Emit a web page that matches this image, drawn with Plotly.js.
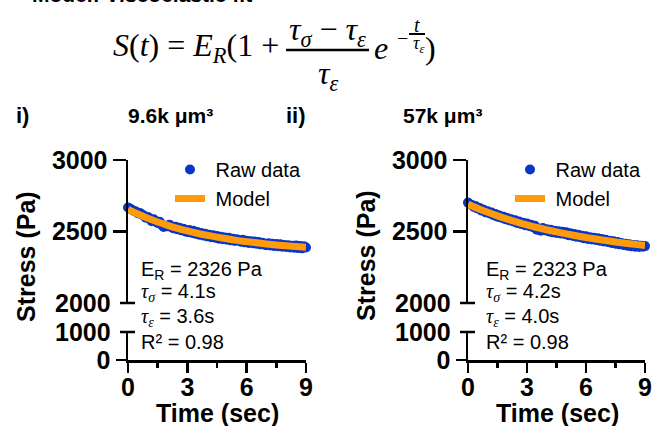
<!DOCTYPE html>
<html>
<head>
<meta charset="utf-8">
<script src="https://cdn.plot.ly/plotly-3.0.1.min.js"></script>
<style>html,body{margin:0;padding:0;background:#fff;}#chart{width:653px;height:426px;}</style>
</head>
<body>
<div id="chart"></div>
<script>
// ---------- data ----------
const rawTime = [0,0.1,0.2,0.3,0.4,0.5,0.6,0.7,0.8,0.9,1,1.1,1.2,1.3,1.4,1.5,1.6,1.7,1.8,1.9,2,2.1,2.2,2.3,2.4,2.5,2.6,2.7,2.8,2.9,3,3.1,3.2,3.3,3.4,3.5,3.6,3.7,3.8,3.9,4,4.1,4.2,4.3,4.4,4.5,4.6,4.7,4.8,4.9,5,5.1,5.2,5.3,5.4,5.5,5.6,5.7,5.8,5.9,6,6.1,6.2,6.3,6.4,6.5,6.6,6.7,6.8,6.9,7,7.1,7.2,7.3,7.4,7.5,7.6,7.7,7.8,7.9,8,8.1,8.2,8.3,8.4,8.5,8.6,8.7,8.8,8.9,9];
const rawStressI = [2668,2660,2652,2644,2640,2628,2630,2618,2612,2596,2602,2590,2572,2585,2574,2560,2568,2548,2532,2540,2536,2548,2530,2522,2534,2515,2526,2508,2520,2500,2496,2510,2492,2505,2484,2496,2478,2490,2472,2484,2466,2478,2460,2474,2456,2468,2450,2464,2446,2458,2442,2456,2438,2450,2434,2446,2440,2428,2442,2424,2436,2420,2432,2418,2430,2414,2426,2410,2422,2408,2404,2418,2402,2414,2398,2412,2396,2410,2394,2406,2392,2404,2388,2400,2386,2402,2384,2398,2382,2396,2388];
const rawStressII = [2702,2690,2686,2672,2676,2660,2664,2646,2652,2634,2642,2626,2632,2614,2622,2604,2612,2596,2604,2586,2594,2578,2586,2570,2578,2560,2570,2552,2562,2544,2556,2538,2548,2530,2540,2512,2520,2506,2524,2508,2516,2500,2512,2494,2506,2490,2502,2486,2498,2482,2494,2474,2488,2470,2482,2464,2478,2460,2470,2452,2466,2448,2460,2444,2456,2440,2452,2436,2448,2430,2442,2426,2436,2420,2432,2414,2426,2410,2420,2406,2414,2400,2410,2396,2406,2394,2404,2392,2400,2394,2398];
const modelTime = [0,0.5,1,1.5,2,2.5,3,3.5,4,4.5,5,5.5,6,6.5,7,7.5,8,8.5,9];
const modelStressI = [2655,2622,2592,2566,2543,2522,2504,2488,2474,2461,2449,2438,2429,2421,2413,2406,2400,2395,2390];
const modelStressII = [2690,2661,2634,2609,2586,2565,2546,2528,2512,2497,2483,2470,2458,2447,2437,2427,2418,2410,2402];
const xTickVals = [0,3,6,9];
const upperTickVals = [2500,3000];
const upperBreakTick = 2000;
const lowerTickVals = [0];
const lowerBreakTick = 1000;
const panelTitles = ['9.6k μm³','57k μm³'];
const panelLabels = ['i)','ii)'];
const fitTextI = ['E<sub>R</sub> = 2326 Pa','4.1s','3.6s','R² = 0.98'];
const fitTextII = ['E<sub>R</sub> = 2323 Pa','4.2s','4.0s','R² = 0.98'];

// ---------- helpers ----------
const W = 653, H = 426;
const px = v => v / W;
const py = v => 1 - v / H;
const BLUE = '#0a36c8', ORANGE = '#ff9a0a', INK = '#000';
const SANS = 'Liberation Sans, Arial, sans-serif';
const SERIF = 'Liberation Serif, Times New Roman, serif';

const traces = [
  {x: rawTime, y: rawStressI, xaxis:'x', yaxis:'y2', type:'scatter', mode:'markers', name:'\u00a0Raw data',
   marker:{color:BLUE, size:10}, cliponaxis:false, legend:'legend'},
  {x: modelTime, y: modelStressI, xaxis:'x', yaxis:'y2', type:'scatter', mode:'lines', name:'\u00a0Model',
   line:{color:ORANGE, width:7, shape:'spline'}, cliponaxis:false, legend:'legend'},
  {x: rawTime, y: rawStressII, xaxis:'x2', yaxis:'y4', type:'scatter', mode:'markers', name:'\u00a0Raw data',
   marker:{color:BLUE, size:10}, cliponaxis:false, legend:'legend2'},
  {x: modelTime, y: modelStressII, xaxis:'x2', yaxis:'y4', type:'scatter', mode:'lines', name:'\u00a0Model',
   line:{color:ORANGE, width:7, shape:'spline'}, cliponaxis:false, legend:'legend2'}
];

const tickFont = {family:SANS, size:25, color:INK, weight:'bold'};
const LW = 2.5;
const lowerPx = [332, 360], upperPx = [160, 303];
const lowerDom = [py(lowerPx[1]), py(lowerPx[0])];
const upperDom = [py(upperPx[1]), py(upperPx[0])];
const panelXPx = [[128, 306], [468, 645]];

function xAxis(dom, anchor){
  return {domain:dom, anchor:anchor, range:[0,9], showline:true, linecolor:INK, linewidth:LW,
    ticks:'outside', ticklen:10, tickwidth:LW, tickcolor:INK, tickmode:'array', tickvals:xTickVals,
    tickfont:tickFont, showgrid:false, zeroline:false, fixedrange:true, ticklabelstandoff:-7,
    minor:{tickmode:'linear', tick0:0, dtick:1.5, ticks:'outside', ticklen:5, tickwidth:LW, tickcolor:INK, showgrid:false}};
}
function yAxis(dom, anchor, range, vals, len){
  return {domain:dom, anchor:anchor, range:range, showline:true, linecolor:INK, linewidth:LW,
    ticks:'outside', ticklen:len, tickwidth:LW, tickcolor:INK, tickmode:'array', tickvals:vals,
    tickfont:tickFont, showgrid:false, zeroline:false, fixedrange:true};
}

const layout = {
  width:W, height:H, margin:{l:0,r:0,t:0,b:0}, paper_bgcolor:'#fff', plot_bgcolor:'rgba(0,0,0,0)',
  font:{family:SANS, color:INK},
  xaxis: xAxis([px(panelXPx[0][0]), px(panelXPx[0][1])], 'y'),
  yaxis: yAxis(lowerDom, 'x', [0,1000], lowerTickVals, 10),
  yaxis2: yAxis(upperDom, 'x', [2000,3000], upperTickVals, 13),
  xaxis2: xAxis([px(panelXPx[1][0]), px(panelXPx[1][1])], 'y3'),
  yaxis3: yAxis(lowerDom, 'x2', [0,1000], lowerTickVals, 10),
  yaxis4: yAxis(upperDom, 'x2', [2000,3000], upperTickVals, 13),
  showlegend:true,
  legend:{x:px(170), y:py(150), xanchor:'left', yanchor:'top', bgcolor:'rgba(0,0,0,0)', borderwidth:0,
    font:{family:SANS, size:20, color:INK}, itemwidth:30, tracegroupgap:0},
  legend2:{x:px(510), y:py(150), xanchor:'left', yanchor:'top', bgcolor:'rgba(0,0,0,0)', borderwidth:0,
    font:{family:SANS, size:20, color:INK}, itemwidth:30, tracegroupgap:0},
  shapes:[], annotations:[]
};

const A = layout.annotations;
// break caps (axis decoration) + their labels on the split y axes
[[0,'x','y2',upperBreakTick,upperPx[1]],[0,'x','y',lowerBreakTick,lowerPx[0]],
 [1,'x2','y4',upperBreakTick,upperPx[1]],[1,'x2','y3',lowerBreakTick,lowerPx[0]]].forEach(([p,xr,yr,v,ypix])=>{
  const ax = panelXPx[p][0];
  layout.shapes.push({type:'line', xref:'paper', yref:'paper', x0:px(ax-8), x1:px(ax+7), y0:py(ypix), y1:py(ypix),
    line:{color:INK, width:LW}});
  A.push({text:'<b>'+v+'</b>', xref:xr+' domain', yref:yr, x:0, y:v, xanchor:'right', yanchor:'middle',
    xshift:-15, showarrow:false, font:tickFont});
});

function ann(text, x, y, o){
  A.push(Object.assign({text:text, x:px(x), y:py(y), xref:'paper', yref:'paper', showarrow:false,
    xanchor:'left', yanchor:'middle', font:{family:SANS, size:20, color:INK}}, o||{}));
}
// cut-off top title
ann('<b>Model: Viscoelastic fit</b>', 30, -6, {font:{family:SANS, size:21, color:INK}});
// equation
const eqF = {family:SERIF, size:32, color:INK};
ann('<i>S</i>(<i>t</i>) = <i>E</i><sub><i>R</i></sub>(1 +', 111, 48, {font:eqF});
ann('<i>τ</i><sub><i>σ</i></sub> − <i>τ</i><sub><i>ε</i></sub>', 328, 32, {font:eqF, xanchor:'center'});
ann('<i>τ</i><sub><i>ε</i></sub>', 328, 75, {font:eqF, xanchor:'center'});
layout.shapes.push({type:'line', xref:'paper', yref:'paper', x0:px(286), x1:px(369), y0:py(50), y1:py(50), line:{color:INK, width:2.5}});
ann('<i>e</i>', 372, 48, {font:eqF});
ann('−', 402, 38, {font:{family:SERIF, size:20, color:INK}, xanchor:'center'});
ann('<i>t</i>', 417, 25, {font:{family:SERIF, size:20, color:INK}, xanchor:'center'});
layout.shapes.push({type:'line', xref:'paper', yref:'paper', x0:px(409), x1:px(425), y0:py(34), y1:py(34), line:{color:INK, width:2}});
ann('<i>τ</i><sub><i>ε</i></sub>', 418, 44, {font:{family:SERIF, size:18, color:INK}, xanchor:'center'});
ann(')', 423, 48, {font:eqF});

// panel labels and titles
ann('<b>'+panelLabels[0]+'</b>', 14, 116, {font:{family:SANS, size:22, color:INK}});
ann('<b>'+panelTitles[0]+'</b>', 170, 116, {font:{family:SANS, size:21, color:INK}, xanchor:'center'});
ann('<b>'+panelLabels[1]+'</b>', 284, 116, {font:{family:SANS, size:22, color:INK}});
ann('<b>'+panelTitles[1]+'</b>', 442, 116, {font:{family:SANS, size:21, color:INK}, xanchor:'center'});

// axis titles
const titleF = {family:SANS, size:25, color:INK};
ann('<b>Stress (Pa)</b>', 26, 257, {font:titleF, xanchor:'center', textangle:-90});
ann('<b>Stress (Pa)</b>', 366, 256, {font:titleF, xanchor:'center', textangle:-90});
ann('<b>Time (sec)</b>', 217, 413, {font:titleF, xanchor:'center'});
ann('<b>Time (sec)</b>', 557, 413, {font:titleF, xanchor:'center'});

// fit parameters
const tau = s => '<span style="font-family:Liberation Serif"><i>τ</i><sub><i>'+s+'</i></sub></span>';
function fitBlock(t, x0){
  ann(t[0], x0, 270);
  ann(tau('σ')+' = '+t[1], x0, 292);
  ann(tau('ε')+' = '+t[2], x0, 317);
  ann(t[3], x0, 342);
}
fitBlock(fitTextI, 139);
fitBlock(fitTextII, 484);

Plotly.newPlot('chart', traces, layout, {staticPlot:true, displayModeBar:false});
</script>
</body>
</html>
